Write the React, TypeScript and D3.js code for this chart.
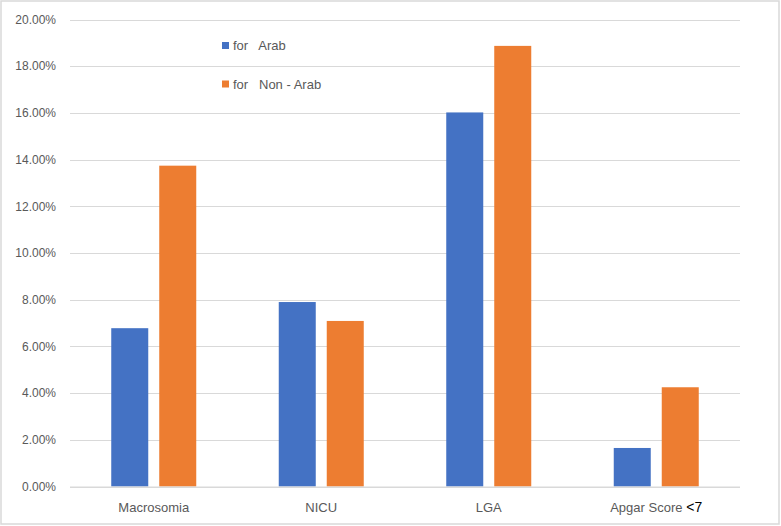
import React from "react";
import * as d3 from "d3";

const categories = ["Macrosomia", "NICU", "LGA", "Apgar Score"];
const seriesNames = ["for   Arab", "for   Non - Arab"];
const arabValues = [6.78, 7.9, 16.02, 1.65];
const nonArabValues = [13.74, 7.09, 18.87, 4.25];
const yTicks = [0, 2, 4, 6, 8, 10, 12, 14, 16, 18, 20];
const colors = ["#4472C4", "#ED7D31"];

export default function App() {
  const width = 781;
  const height = 526;
  const font = "'Liberation Sans', Arial, sans-serif";

  const x = d3.scaleBand().domain(categories).range([70, 740]).paddingInner(0).paddingOuter(0);
  const y = d3.scaleLinear().domain([0, 20]).range([486.5, 19.5]);

  const series = [arabValues, nonArabValues];

  return (
    <svg
      width={width}
      height={height}
      style={{ position: "absolute", left: 0, top: 0, background: "#fff" }}
      fontFamily={font}
    >
      <rect x={1} y={1} width={778} height={523} fill="#fff" stroke="#d9d9d9" strokeWidth={1.5} />

      {/* gridlines */}
      {yTicks.map((t) => (
        <line key={t} x1={70} x2={740} y1={Math.round(y(t)) + 0.5} y2={Math.round(y(t)) + 0.5} stroke="#d9d9d9" strokeWidth={1} />
      ))}

      {/* y tick labels */}
      {yTicks.map((t) => (
        <text key={"l" + t} x={56} y={y(t)} dy="0.35em" textAnchor="end" fontSize={12} fill="#595959">
          {d3.format(".2f")(t) + "%"}
        </text>
      ))}

      {/* bars */}
      {categories.map((c, i) => {
        const cx = (x(c) as number) + x.bandwidth() / 2;
        const inner = d3.scaleBand().domain(["0", "1"]).range([cx - 42.5, cx + 42.5]).paddingInner(0.229).paddingOuter(0);
        return series.map((s, k) => (
          <rect
            key={c + k}
            x={inner(String(k))}
            y={y(s[i])}
            width={inner.bandwidth()}
            height={y(0) - y(s[i])}
            fill={colors[k]}
          />
        ));
      })}

      {/* x axis line */}
      <line x1={70} x2={740} y1={487} y2={487} stroke="#d9d9d9" strokeWidth={1} />

      {/* x labels */}
      {categories.map((c) => {
        const cx = (x(c) as number) + x.bandwidth() / 2;
        return (
          <text key={"x" + c} x={cx} y={512} textAnchor="middle" fontSize={13} fill="#595959">
            {c}
            {c === "Apgar Score" ? <tspan fill="#000" fontSize={14}> {"<7"}</tspan> : null}
          </text>
        );
      })}

      {/* legend */}
      {seriesNames.map((n, k) => (
        <g key={n} transform={`translate(222, ${k === 0 ? 45.5 : 84})`}>
          <rect x={0} y={-3.5} width={7} height={7} fill={colors[k]} />
          <text x={11} y={0} dy="0.35em" fontSize={13} fill="#595959" style={{ whiteSpace: "pre" }}>
            {n}
          </text>
        </g>
      ))}
    </svg>
  );
}
